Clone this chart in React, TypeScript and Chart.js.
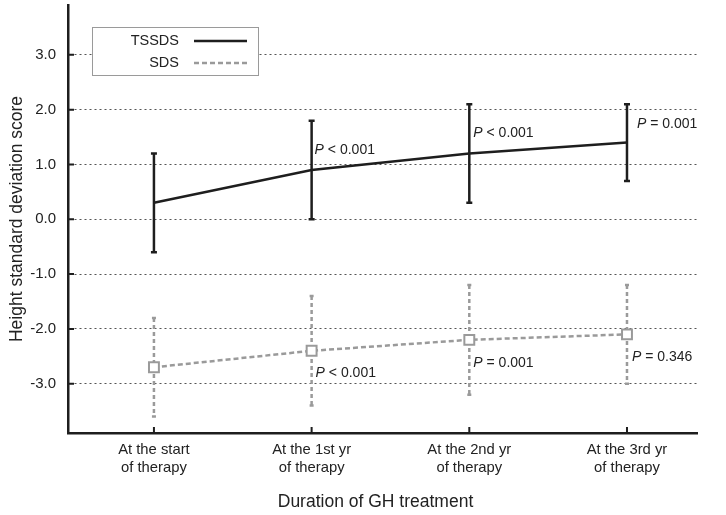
import React, { useEffect, useRef } from "react";
import { Chart, registerables } from "chart.js";

Chart.register(...registerables);

const categories: string[][] = [
  ["At the start", "of therapy"],
  ["At the 1st yr", "of therapy"],
  ["At the 2nd yr", "of therapy"],
  ["At the 3rd yr", "of therapy"],
];
const yTickValues = [-3, -2, -1, 0, 1, 2, 3];
const tssdsMean = [0.3, 0.9, 1.2, 1.4];
const tssdsSD = [0.9, 0.9, 0.9, 0.7];
const sdsMean = [-2.7, -2.4, -2.2, -2.1];
const sdsSD = [0.9, 1.0, 1.0, 0.9];
const tssdsP: (string | null)[] = [null, "< 0.001", "< 0.001", "= 0.001"];
const sdsP: (string | null)[] = [null, "< 0.001", "= 0.001", "= 0.346"];
const xTitle = "Duration of GH treatment";
const yTitle = "Height standard deviation score";

// label placement (style only)
const tssdsLabelDX = [0, 3, 4, 10];
const tssdsLabelDY = [0, -20, -20, -18];
const sdsLabelDX = [0, 4, 4, 5];
const sdsLabelDY = [0, 22, 23, 23];

const FONT = "'Liberation Sans', Arial, sans-serif";
const DARK = "#1e1e1e";
const GREY = "#9a9a9a";

const overlayPlugin = {
  id: "overlay",
  beforeDatasetsDraw(chart: any) {
    const ctx = chart.ctx;
    const xs = chart.scales.x;
    const ys = chart.scales.y;
    const drawBars = (means: number[], sds: number[], color: string, dash: number[], cap: number, width: number) => {
      ctx.save();
      ctx.strokeStyle = color;
      ctx.lineWidth = width;
      for (let i = 0; i < means.length; i++) {
        const x = xs.getPixelForValue(i);
        const yTop = ys.getPixelForValue(means[i] + sds[i]);
        const yBot = ys.getPixelForValue(means[i] - sds[i]);
        ctx.setLineDash(dash);
        ctx.beginPath();
        ctx.moveTo(x, yTop);
        ctx.lineTo(x, yBot);
        ctx.stroke();
        ctx.setLineDash([]);
        ctx.beginPath();
        ctx.moveTo(x - cap / 2, yTop);
        ctx.lineTo(x + cap / 2, yTop);
        ctx.moveTo(x - cap / 2, yBot);
        ctx.lineTo(x + cap / 2, yBot);
        ctx.stroke();
      }
      ctx.restore();
    };
    drawBars(tssdsMean, tssdsSD, DARK, [], 6, 2.5);
    drawBars(sdsMean, sdsSD, GREY, [4, 3], 4, 2.5);
  },
  afterDraw(chart: any) {
    const ctx = chart.ctx;
    const xs = chart.scales.x;
    const ys = chart.scales.y;
    const area = chart.chartArea;
    ctx.save();
    // inside tick marks
    ctx.strokeStyle = DARK;
    ctx.lineWidth = 2;
    ctx.setLineDash([]);
    ctx.beginPath();
    yTickValues.forEach((v) => {
      const y = ys.getPixelForValue(v);
      ctx.moveTo(area.left, y);
      ctx.lineTo(area.left + 6, y);
    });
    categories.forEach((_, i) => {
      const x = xs.getPixelForValue(i);
      ctx.moveTo(x, area.bottom);
      ctx.lineTo(x, area.bottom - 6);
    });
    ctx.stroke();

    // x axis title
    ctx.fillStyle = "#222";
    ctx.font = `17.5px ${FONT}`;
    ctx.textAlign = "center";
    ctx.textBaseline = "middle";
    ctx.fillText(xTitle, (area.left + area.right) / 2 - 7, xs.bottom - 13);

    // P-value labels
    const drawP = (i: number, means: number[], txt: string | null, dx: number, dy: number) => {
      if (!txt) return;
      const x = xs.getPixelForValue(i) + dx;
      const y = ys.getPixelForValue(means[i]) + dy;
      ctx.fillStyle = "#222";
      ctx.textBaseline = "middle";
      ctx.textAlign = "left";
      ctx.font = `italic 14px ${FONT}`;
      ctx.fillText("P", x, y);
      const w = ctx.measureText("P").width;
      ctx.font = `14px ${FONT}`;
      ctx.fillText(" " + txt, x + w, y);
    };
    for (let i = 0; i < categories.length; i++) {
      drawP(i, tssdsMean, tssdsP[i], tssdsLabelDX[i], tssdsLabelDY[i]);
      drawP(i, sdsMean, sdsP[i], sdsLabelDX[i], sdsLabelDY[i]);
    }

    // legend
    const bx = area.left + 24;
    const by = area.top + 22;
    const bw = 166;
    const bh = 48;
    ctx.fillStyle = "#fff";
    ctx.fillRect(bx, by, bw, bh);
    ctx.strokeStyle = "#9a9a9a";
    ctx.lineWidth = 1;
    ctx.strokeRect(bx + 0.5, by + 0.5, bw, bh);
    const ds = chart.data.datasets;
    const rows = [by + 14, by + 36];
    ds.forEach((d: any, k: number) => {
      const y = rows[k];
      ctx.fillStyle = "#222";
      ctx.font = `14.5px ${FONT}`;
      ctx.textAlign = "right";
      ctx.textBaseline = "middle";
      ctx.fillText(d.label, bx + 87, y);
      ctx.strokeStyle = d.borderColor;
      ctx.lineWidth = 2.5;
      ctx.setLineDash(d.borderDash || []);
      ctx.beginPath();
      ctx.moveTo(bx + 102, y);
      ctx.lineTo(bx + 155, y);
      ctx.stroke();
    });
    ctx.restore();
  },
};

export default function App() {
  const ref = useRef<HTMLCanvasElement | null>(null);
  useEffect(() => {
    if (!ref.current) return;
    const chart = new Chart(ref.current, {
      type: "line",
      data: {
        datasets: [
          {
            label: "TSSDS",
            data: tssdsMean.map((v, i) => ({ x: i, y: v })),
            borderColor: DARK,
            borderWidth: 2.5,
            pointRadius: 0,
            fill: false,
            tension: 0,
          },
          {
            label: "SDS",
            data: sdsMean.map((v, i) => ({ x: i, y: v })),
            borderColor: GREY,
            borderDash: [5, 3],
            borderWidth: 2.5,
            pointStyle: "rect",
            pointRadius: 7,
            pointBorderWidth: 2,
            pointBackgroundColor: "#fff",
            pointBorderColor: GREY,
            fill: false,
            tension: 0,
          },
        ],
      } as any,
      options: {
        animation: false,
        responsive: false,
        maintainAspectRatio: false,
        layout: { autoPadding: false, padding: { left: 0, top: 5, right: 29, bottom: 0 } },
        plugins: { legend: { display: false }, tooltip: { enabled: false } },
        scales: {
          x: {
            type: "linear",
            min: -0.545,
            max: 3.444,
            afterBuildTicks: (s: any) => {
              s.ticks = categories.map((_, i) => ({ value: i }));
            },
            afterFit: (s: any) => {
              s.height = 82;
              s.paddingLeft = 0;
              s.paddingRight = 0;
            },
            ticks: {
              callback: (v: any) => categories[Math.round(v)],
              font: { family: FONT, size: 14.8 },
              color: "#222",
              padding: 8,
              maxRotation: 0,
              autoSkip: false,
            },
            grid: { display: false, drawTicks: false },
            border: { display: true, color: DARK, width: 2.5 },
            title: { display: false },
          },
          y: {
            type: "linear",
            min: -3.9,
            max: 3.91,
            afterBuildTicks: (s: any) => {
              s.ticks = yTickValues.map((v) => ({ value: v }));
            },
            afterFit: (s: any) => {
              s.width = 68;
              s.paddingTop = 0;
              s.paddingBottom = 0;
            },
            ticks: {
              callback: (v: any) => Number(v).toFixed(1),
              font: { family: FONT, size: 15 },
              color: "#222",
              padding: 12,
            },
            grid: { color: "#555", lineWidth: 1, drawTicks: false },
            border: { display: true, color: DARK, width: 2.5, dash: [2, 3] },
            title: {
              display: true,
              text: yTitle,
              font: { family: FONT, size: 17.5 },
              color: "#222",
              padding: { top: 7, bottom: 0 },
            },
          },
        },
      } as any,
      plugins: [overlayPlugin],
    });
    return () => chart.destroy();
  }, []);
  return (
    <div style={{ position: "fixed", left: 0, top: 0, width: 726, height: 515, background: "#fff" }}>
      <canvas ref={ref} width={726} height={515} style={{ display: "block" }} />
    </div>
  );
}
